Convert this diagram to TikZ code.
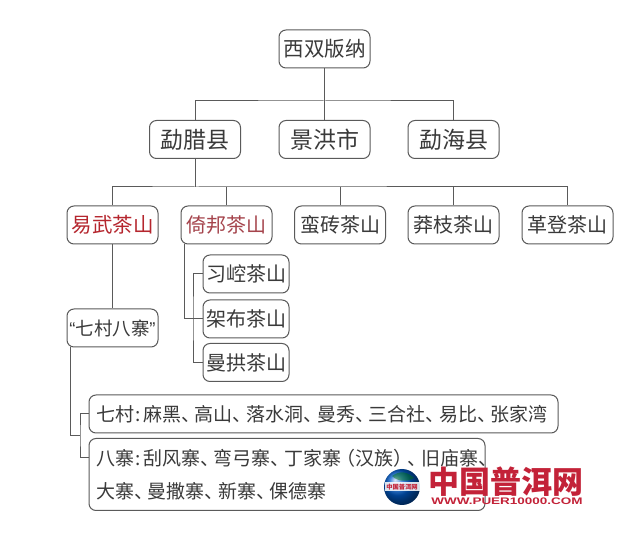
\documentclass[tikz,border=0pt]{standalone}
\usepackage{fontspec}
\setmainfont{Noto Sans CJK SC}
\newfontfamily\latinbold{Liberation Sans}
\usetikzlibrary{calc}
\definecolor{ink}{HTML}{3A3A3A}
\definecolor{edge}{HTML}{5A5A5A}
\definecolor{logored}{HTML}{C32238}
\definecolor{redA}{HTML}{B5262E}
\definecolor{redB}{HTML}{A5444C}
\newcommand{\dun}{、\hspace{-5.4pt}}
\tikzset{
  box/.style={draw=edge,line width=1pt,rounded corners=7pt,fill=white,text=ink,inner sep=0pt,align=center,font=\fontsize{19}{22}\selectfont},
  tbox/.style={box,minimum width=91pt,minimum height=38pt},
  county/.style={tbox,font=\fontsize{23}{26}\selectfont},
  subbox/.style={box,minimum width=86pt,minimum height=38pt,font=\fontsize{20}{22}\selectfont},
  wire/.style={draw=edge,line width=1pt},
}
\begin{document}
\begin{tikzpicture}[x=1pt,y=-1pt]
\useasboundingbox (0,0) rectangle (638,537);
\fill[white] (0,0) rectangle (638,537);
% nodes
\node[tbox,font=\fontsize{20.5}{22}\selectfont] (root) at (324.5,49) {西双版纳};
\node[county] (mengla) at (195,139.5) {勐腊县};
\node[county] (jinghong) at (324.5,139.5) {景洪市};
\node[county] (menghai) at (453.5,139.5) {勐海县};
\node[tbox,text=redA,font=\fontsize{20.5}{22}\selectfont] (yiwu) at (112.5,225) {易武茶山};
\node[tbox,text=redB,font=\fontsize{20}{22}\selectfont] (yibang) at (226.5,225) {倚邦茶山};
\node[tbox,font=\fontsize{20}{22}\selectfont] (manzhuan) at (340,225) {蛮砖茶山};
\node[tbox,font=\fontsize{20}{22}\selectfont] (mangzhi) at (453.5,225) {莽枝茶山};
\node[tbox,font=\fontsize{20}{22}\selectfont] (gedeng) at (567.5,225) {革登茶山};
\node[subbox] (xikong) at (246,274) {习崆茶山};
\node[subbox] (jiabu) at (246,319) {架布茶山};
\node[subbox] (mangong) at (246,362.5) {曼拱茶山};
\node[tbox,font=\fontsize{18.5}{22}\selectfont] (qiba) at (112.5,328) {{\latinbold “}七村八寨{\latinbold ”}};
\node[box,minimum width=469pt,minimum height=38pt,text width=455pt,align=left] (qicun) at (323.5,414) {\mbox{七村\hspace{2pt}:\hspace{2pt}麻黑\dun 高山\dun 落水洞\dun 曼秀\dun 三合社\dun 易比\dun 张家湾}};
\node[box,minimum width=396pt,minimum height=72pt,text width=382pt,align=left,font=\fontsize{19}{33}\selectfont] (bazhai) at (287,474.5) {\mbox{八寨\hspace{2pt}:\hspace{2pt}刮风寨\dun 弯弓寨\dun 丁家寨\hspace{-5pt}（汉族）\hspace{-5pt}\dun 旧庙寨、}\\\mbox{大寨\dun 曼撒寨\dun 新寨\dun 倮德寨}};
% connector anchors
\coordinate (busA) at (324.5,101);
\coordinate (busB) at (195,187);
\coordinate (yibangL) at (184,244);
\coordinate (subbus) at (193,319);
\coordinate (qibaL) at (70,347);
\coordinate (fork) at (80,436);
\coordinate (bazhaiW) at (89,458);
% connectors
\draw[wire] (root.south) -- (jinghong.north);
\draw[wire] (mengla.north) |- (busA) -| (menghai.north);
\draw[wire] (mengla.south) -- (busB);
\draw[wire] (yiwu.north) |- (busB) -| (gedeng.north);
\draw[wire] (yibang.north) -- (yibang.north |- busB);
\draw[wire] (manzhuan.north) -- (manzhuan.north |- busB);
\draw[wire] (mangzhi.north) -- (mangzhi.north |- busB);
\draw[wire] (yiwu.south) -- (qiba.north);
\draw[wire] (yibangL) |- (jiabu.west);
\draw[wire] (xikong.west) -| (subbus) |- (mangong.west);
\draw[wire] (qibaL) |- (fork);
\draw[wire] (qicun.west) -| (fork) |- (bazhaiW);
% logo
\shade[ball color=blue!55!cyan!80!black] (402,487) circle (18);
\fill[green!45!black,opacity=.45] (392,476) .. controls (400,470) and (408,472) .. (414,478) .. controls (408,482) and (398,482) .. (392,476);
\fill[white,opacity=.85] (384.5,482) rectangle (419.5,491);
\node[text=logored,inner sep=0pt,font=\fontsize{6.3}{7}\bfseries\selectfont] (globetext) at (402,487) {中国普洱网};
\node[text=logored,inner sep=0pt,font=\fontsize{31}{33}\bfseries\selectfont] (logotext) at (506,482) {中国普洱网};
\node[text=logored,inner sep=0pt,font=\latinbold\fontsize{9.5}{10}\bfseries\selectfont,xscale=1.42] (logourl) at (507,501) {WWW.PUER10000.COM};
\end{tikzpicture}
\end{document}
